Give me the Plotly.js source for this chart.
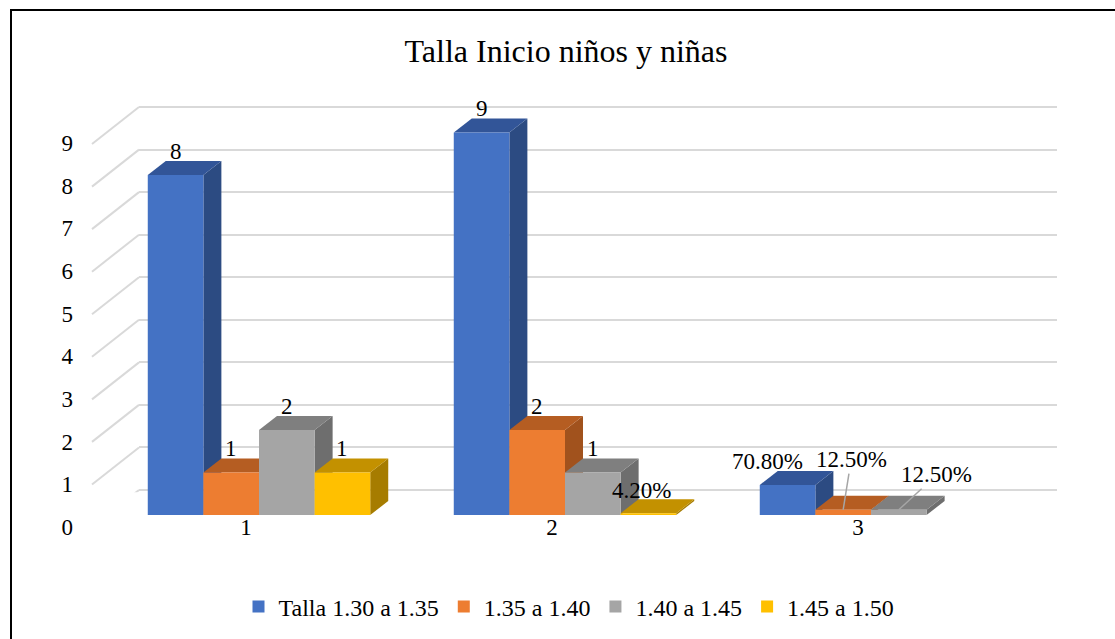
<!DOCTYPE html>
<html><head><meta charset="utf-8">
<script src="https://cdn.plot.ly/plotly-3.0.1.min.js"></script>
<style>html,body{margin:0;padding:0;background:#fff;overflow:hidden}#chart{width:1115px;height:639px}</style>
</head><body><div id="chart"></div>
<script>
// ---------- DATA ----------
const chartTitle = 'Talla Inicio niños y niñas';
const categories = ['1', '2', '3'];
const seriesNames = ['Talla 1.30 a 1.35', '1.35 a 1.40', '1.40 a 1.45', '1.45 a 1.50'];
const talla130a135 = [8, 9, 0.708];
const talla135a140 = [1, 2, 0.125];
const talla140a145 = [2, 1, 0.125];
const talla145a150 = [1, 0.042, null];
const yTickValues = [0, 1, 2, 3, 4, 5, 6, 7, 8, 9];
const yTickLabels = ['0', '1', '2', '3', '4', '5', '6', '7', '8', '9'];

// ---------- STYLE / GEOMETRY ----------
const W = 1115, H = 639;
const FONT = "'Liberation Serif', 'Times New Roman', Tinos, serif";
const frontColors = ['#4472C4', '#ED7D31', '#A5A5A5', '#FFC000'];
const topColors   = ['#325598', '#B55D22', '#7F7F7F', '#C39100'];
const sideColors  = ['#2C4B82', '#A1521D', '#6E6E6E', '#A67C00'];
const series = [talla130a135, talla135a140, talla140a145, talla145a150];
const catPos = categories.map((c, k) => k + 1);

// front plane (bars)
const frontZeroPx = 515, frontPxPerUnit = 42.5, frontRange = [0, 10];
const catLeftPx = 106, catSpacingPx = 306, xRange = [0.5, 3.5];
// back wall (gridlines)
const wallLeftPx = 139, wallRightPx = 1057, wallZeroPx = 490, wallPxPerUnit = 42.55, wallRange = [-0.05, 9.05];
// front-left value labels
const labelZeroPx = 527, labelPxPerUnit = 42.67;
const bargap = 0.273;
const barW = (1 - bargap) / series.length;
const depthXpx = 18, depthYpx = 14;
const ddx = depthXpx / catSpacingPx, ddy = depthYpx / frontPxPerUnit;

function py(px) { return 1 - px / H; }
function pxX(px) { return px / W; }

const traces = series.map((vals, i) => ({
  type: 'bar', name: seriesNames[i], x: catPos, y: vals,
  xaxis: 'x2', yaxis: 'y2',
  marker: {color: frontColors[i], line: {width: 0}},
  hoverinfo: 'skip', cliponaxis: false
}));
// carrier for the front-left value axis labels
traces.push({type: 'scatter', x: [], y: [], xaxis: 'x', yaxis: 'y3', showlegend: false, hoverinfo: 'skip'});

const shapes = [];
// diagonal wall lines (front-left edge to back wall)
yTickValues.forEach(v => {
  shapes.push({type: 'line', layer: 'below', xref: 'paper', yref: 'y',
    x0: pxX(92), x1: pxX(wallLeftPx), ysizemode: 'pixel', yanchor: v, y0: -37, y1: 0,
    line: {color: '#d9d9d9', width: 2}});
});
// 3D side and top faces of each bar
catPos.forEach((c, k) => {
  series.forEach((vals, i) => {
    const v = vals[k];
    if (v === null || v === undefined) return;
    const xl = c - (series.length / 2) * barW + i * barW;
    const xr = xl + barW;
    shapes.push({type: 'path', layer: 'below', xref: 'x2', yref: 'y2',
      path: `M${xr},0 L${xr + ddx},${ddy} L${xr + ddx},${v + ddy} L${xr},${v} Z`,
      fillcolor: sideColors[i], line: {width: 0}});
    shapes.push({type: 'path', layer: 'below', xref: 'x2', yref: 'y2',
      path: `M${xl},${v} L${xl + ddx},${v + ddy} L${xr + ddx},${v + ddy} L${xr},${v} Z`,
      fillcolor: topColors[i], line: {width: 0}});
  });
});
// outer frame
shapes.push({type: 'rect', layer: 'above', xref: 'paper', yref: 'paper',
  x0: pxX(11), x1: 1.05, y0: -0.05, y1: py(10), line: {color: '#000', width: 2}, fillcolor: 'rgba(0,0,0,0)'});

// data labels
const labelOffsets = {
  '1-3': {xshift: -7, yshift: 23},
  '2-0': {xshift: -20, yshift: 23},
  '2-1': {arrow: true, ax: 8, ay: -50},
  '2-2': {arrow: true, ax: 38, ay: -35}
};
function fmt(v) { return v >= 1 ? String(v) : (v * 100).toFixed(2) + '%'; }
const annotations = [];
catPos.forEach((c, k) => {
  series.forEach((vals, i) => {
    const v = vals[k];
    if (v === null || v === undefined) return;
    const xc = c - (series.length / 2) * barW + (i + 0.5) * barW;
    const off = labelOffsets[k + '-' + i] || {xshift: 0, yshift: 24};
    const a = {xref: 'x2', yref: 'y2', x: xc, y: v, text: fmt(v),
      font: {family: FONT, size: 23, color: '#000'}};
    if (off.arrow) {
      Object.assign(a, {showarrow: true, arrowhead: 0, arrowwidth: 1.5, arrowcolor: '#a6a6a6',
        ax: off.ax, ay: off.ay, standoff: 0});
    } else {
      Object.assign(a, {showarrow: false, xanchor: 'center', yanchor: 'middle',
        xshift: off.xshift, yshift: off.yshift});
    }
    annotations.push(a);
  });
});

const layout = {
  width: W, height: H, margin: {l: 0, r: 0, t: 0, b: 0},
  paper_bgcolor: '#fff', plot_bgcolor: 'rgba(0,0,0,0)',
  font: {family: FONT, size: 23, color: '#000'},
  showlegend: true,
  title: {text: chartTitle, font: {family: FONT, size: 32, color: '#000'},
    xref: 'paper', x: pxX(566), xanchor: 'center', yref: 'paper', y: py(51), yanchor: 'middle'},
  barmode: 'group', bargap: bargap, bargroupgap: 0,
  xaxis: {domain: [pxX(wallLeftPx), pxX(wallRightPx)], range: [0, 1], showgrid: false,
    zeroline: false, showline: false, showticklabels: false, ticks: '', anchor: 'y', fixedrange: true},
  yaxis: {domain: [py(wallZeroPx - wallRange[0] * wallPxPerUnit), py(wallZeroPx - wallRange[1] * wallPxPerUnit)],
    range: wallRange, tickmode: 'array', tickvals: yTickValues,
    showgrid: true, gridcolor: '#d9d9d9', gridwidth: 2, zeroline: false, showline: false,
    showticklabels: false, ticks: '', anchor: 'x', fixedrange: true},
  yaxis3: {domain: [py(labelZeroPx - wallRange[0] * labelPxPerUnit), py(labelZeroPx - wallRange[1] * labelPxPerUnit)],
    range: wallRange, tickmode: 'array', tickvals: yTickValues, ticktext: yTickLabels,
    showgrid: false, zeroline: false, showline: false, ticks: '', anchor: 'free', position: pxX(wallLeftPx),
    side: 'left', ticklabelstandoff: 66, tickfont: {family: FONT, size: 23, color: '#000'}, fixedrange: true},
  xaxis2: {domain: [pxX(catLeftPx), pxX(catLeftPx + catSpacingPx * (xRange[1] - xRange[0]))],
    range: xRange, tickmode: 'array', tickvals: catPos, ticktext: categories,
    showgrid: false, zeroline: false, showline: false, ticks: '', ticklabelshift: -13, ticklabelstandoff: -4,
    tickfont: {family: FONT, size: 23, color: '#000'}, anchor: 'y2', fixedrange: true},
  yaxis2: {domain: [py(frontZeroPx), py(frontZeroPx - frontRange[1] * frontPxPerUnit)],
    range: frontRange, showgrid: false, zeroline: false, showline: false, showticklabels: false,
    ticks: '', anchor: 'x2', fixedrange: true},
  legend: {orientation: 'h', x: pxX(569), xanchor: 'center', y: py(607), yanchor: 'middle',
    font: {family: FONT, size: 24, color: '#000'}, traceorder: 'normal', bgcolor: 'rgba(0,0,0,0)'},
  shapes: shapes,
  annotations: annotations
};

Plotly.newPlot('chart', traces, layout, {staticPlot: true, displayModeBar: false});
</script>
</body></html>
